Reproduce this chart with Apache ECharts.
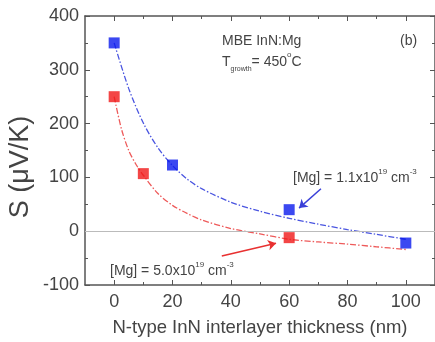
<!DOCTYPE html>
<html><head><meta charset="utf-8">
<script src="https://cdn.jsdelivr.net/npm/echarts@6/dist/echarts.min.js"></script>
<style>html,body{margin:0;padding:0;background:#fff}#c{width:435px;height:342px}</style>
</head><body><div id="c"></div>
<script>
// Measured data
const xBlue = [0, 20, 60, 100];
const yBlue = [350, 123, 40, -22];
const xRed = [0, 10, 60];
const yRed = [250, 107, -12];
// Fit curves
const fitXBlue = [0, 5, 10, 15, 20, 25, 30, 40, 50, 60, 70, 80, 90, 100];
const fitBlue = [350, 265, 201, 155, 122, 97, 79, 54, 37, 24, 13, 3, -6, -15];
const fitXRed = [0, 2.5, 5, 7.5, 10, 15, 20, 25, 30, 40, 50, 60, 70, 80, 90, 100];
const fitRed = [250, 190, 150, 124, 104, 70, 48, 33, 21, 5, -5, -15, -20, -24, -29, -34];
const xMajorTicks = [0, 20, 40, 60, 80, 100];
const xMinorTicks = [10, 30, 50, 70, 90];
const yTicks = [-100, 0, 100, 200, 300, 400];
// Annotation arrows (data coordinates: [from, to])
const blueArrow = [[70.9, 79], [63.4, 43]];
const redArrow = [[36.9, -46], [55.5, -22.5]];

const pairs = (xs, ys) => xs.map((x, i) => [x, ys[i]]);
const font = 'Liberation Sans, Arial, sans-serif';
const axisCol = '#555';
const txtCol = '#444';

const chart = echarts.init(document.getElementById('c'), null, {renderer: 'canvas'});
const line = {onZero: false, lineStyle: {color: axisCol, width: 1.5}};
function xAx(pos, values, len, showLine, extra) {
  return Object.assign({type: 'value', min: -10, max: 110, position: pos,
    axisLine: Object.assign({}, line, {show: showLine}),
    axisTick: {inside: true, length: len, customValues: values, lineStyle: {color: axisCol}},
    axisLabel: {show: false}, splitLine: {show: false}}, extra || {});
}
chart.setOption({
  animation: false,
  grid: {left: 85, top: 16, width: 350, bottom: 53, containLabel: false},
  xAxis: [
    xAx('bottom', xMajorTicks, 5, true, {
      name: 'N-type InN interlayer thickness (nm)', nameLocation: 'middle', nameGap: 33,
      nameTextStyle: {fontFamily: font, fontSize: 18.5, color: txtCol},
      axisLabel: {show: true, customValues: xMajorTicks, fontFamily: font, fontSize: 18, color: txtCol, margin: 8}}),
    xAx('bottom', xMinorTicks, 3, false),
    xAx('top', xMajorTicks, 5, true),
    xAx('top', xMinorTicks, 3, false)
  ],
  yAxis: [
    {type: 'value', min: -100, max: 400, interval: 100, position: 'left',
      axisLine: line,
      axisTick: {inside: true, length: 5, lineStyle: {color: axisCol}},
      minorTick: {show: true, splitNumber: 2, length: 3, lineStyle: {color: axisCol}},
      axisLabel: {fontFamily: font, fontSize: 18, color: txtCol, margin: 6,
        customValues: yTicks},
      splitLine: {show: false}},
    {type: 'value', min: -100, max: 400, interval: 100, position: 'right',
      axisLine: line,
      axisTick: {inside: true, length: 5, lineStyle: {color: axisCol}},
      minorTick: {show: true, splitNumber: 2, length: 3, lineStyle: {color: axisCol}},
      axisLabel: {show: false}, splitLine: {show: false}}
  ],
  series: [
    {type: 'line', data: pairs(fitXBlue, fitBlue), smooth: 0.3, showSymbol: false, symbol: 'none',
      lineStyle: {color: '#4a55e0', width: 1.3, type: [6, 2, 1.5, 2]}, z: 2,
      markLine: {silent: true, symbol: ['none', 'none'], label: {show: false},
        lineStyle: {color: '#bbb', width: 1, type: 'solid'},
        data: [{yAxis: 0}]}},
    {type: 'line', data: pairs(fitXRed, fitRed), smooth: 0.3, showSymbol: false, symbol: 'none',
      lineStyle: {color: '#ee5a5a', width: 1.3, type: [6, 2, 1.5, 2]}, z: 2},
    {type: 'scatter', data: pairs(xBlue, yBlue), symbol: 'rect', symbolSize: 11,
      itemStyle: {color: '#0a1aee'}, z: 5,
      markLine: {silent: true, symbol: ['none', 'arrow'], symbolSize: 8, label: {show: false},
        lineStyle: {color: '#3a40d8', width: 1.5, type: 'solid'},
        data: [[{coord: blueArrow[0]}, {coord: blueArrow[1]}]]}},
    {type: 'scatter', data: pairs(xRed, yRed), symbol: 'rect', symbolSize: 11,
      itemStyle: {color: '#f01818'}, z: 5,
      markLine: {silent: true, symbol: ['none', 'arrow'], symbolSize: 8, label: {show: false},
        lineStyle: {color: '#e83030', width: 1.5, type: 'solid'},
        data: [[{coord: redArrow[0]}, {coord: redArrow[1]}]]}}
  ],
  graphic: [
    {type: 'text', x: 21, y: 167, rotation: Math.PI / 2,
      style: {text: 'S (\u03bcV/K)', font: '27px ' + font, fill: txtCol, align: 'center', verticalAlign: 'middle'}},
    {type: 'text', left: 222, top: 34, style: {text: 'MBE InN:Mg', font: '14px ' + font, fill: txtCol}},
    {type: 'text', left: 222, top: 51, style: {
      text: '{m|T}{sub|growth}{m|= 450}{sup|o}{m|C}', fill: txtCol,
      rich: {m: {fontFamily: font, fontSize: 14, lineHeight: 22, verticalAlign: 'middle', fill: txtCol},
             sub: {fontFamily: font, fontSize: 7, verticalAlign: 'bottom', fill: txtCol},
             sup: {fontFamily: font, fontSize: 8, verticalAlign: 'top', fill: txtCol}}}},
    {type: 'text', left: 400, top: 34, style: {text: '(b)', font: '14px ' + font, fill: txtCol}},
    {type: 'text', left: 293, top: 168, style: {
      text: '{m|[Mg] = 1.1x10}{sup|19}{m| cm}{sup|-3}', fill: txtCol,
      rich: {m: {fontFamily: font, fontSize: 14, lineHeight: 20, fill: txtCol},
             sup: {fontFamily: font, fontSize: 8, verticalAlign: 'top', fill: txtCol}}}},
    {type: 'text', left: 110, top: 261, style: {
      text: '{m|[Mg] = 5.0x10}{sup|19}{m| cm}{sup|-3}', fill: txtCol,
      rich: {m: {fontFamily: font, fontSize: 14, lineHeight: 20, fill: txtCol},
             sup: {fontFamily: font, fontSize: 8, verticalAlign: 'top', fill: txtCol}}}}
  ]
});
</script></body></html>
